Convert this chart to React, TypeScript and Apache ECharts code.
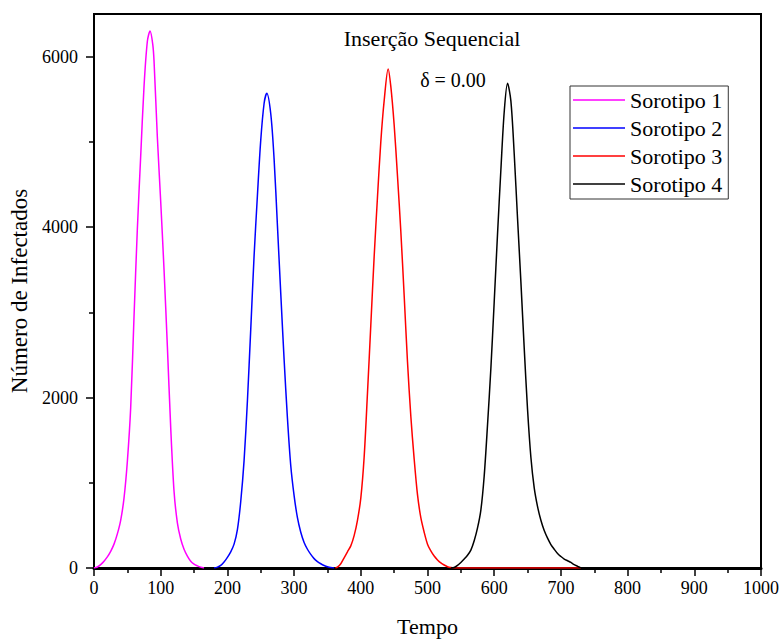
import React, { useEffect, useRef } from "react";
import * as echarts from "echarts";

const FONT = "'Liberation Serif', 'Times New Roman', serif";

const seriesNames = ["Sorotipo 1", "Sorotipo 2", "Sorotipo 3", "Sorotipo 4"];
const seriesColors = ["#FF00FF", "#0000FF", "#FF0000", "#000000"];

const s1T = [0, 5, 10, 15, 20, 25, 30, 35, 40, 45, 50, 55, 60, 65, 70, 75, 80, 84, 88, 90, 95, 100, 105, 110, 115, 120, 125, 130, 135, 140, 145, 150, 155, 160, 165];
const s1V = [0, 12, 40, 80, 130, 195, 280, 400, 560, 820, 1250, 1880, 2950, 3980, 4830, 5650, 6180, 6300, 6150, 5950, 5050, 4300, 3500, 2600, 1650, 900, 530, 340, 220, 140, 80, 45, 25, 10, 0];

const s2T = [180, 185, 190, 195, 200, 205, 210, 215, 220, 225, 230, 235, 240, 245, 250, 255, 259, 265, 270, 275, 280, 285, 290, 295, 300, 305, 310, 315, 320, 325, 330, 335, 340, 345, 350, 355, 360];
const s2V = [0, 10, 30, 70, 125, 190, 280, 450, 780, 1260, 1960, 2800, 3660, 4370, 5020, 5450, 5570, 5330, 4800, 4020, 3220, 2450, 1760, 1200, 850, 590, 420, 300, 220, 160, 110, 75, 50, 30, 15, 5, 0];

const s3T = [362, 365, 370, 375, 380, 385, 390, 395, 400, 405, 410, 415, 420, 425, 430, 435, 441, 445, 450, 455, 460, 465, 470, 475, 480, 485, 490, 495, 500, 505, 510, 515, 520, 525, 530, 535, 540, 600, 650, 700, 730];
const s3V = [0, 10, 50, 120, 190, 260, 380, 560, 820, 1300, 2050, 2850, 3650, 4350, 5000, 5480, 5856, 5650, 5200, 4600, 3950, 3200, 2420, 1780, 1280, 860, 590, 420, 280, 200, 140, 95, 60, 35, 15, 5, 0, 0, 0, 0, 0];

const s4T = [535, 540, 545, 550, 555, 560, 565, 570, 575, 580, 585, 590, 595, 600, 605, 610, 615, 620, 625, 630, 635, 640, 645, 650, 655, 660, 665, 670, 675, 680, 685, 690, 695, 700, 705, 710, 715, 720, 725, 730];
const s4V = [0, 5, 30, 65, 105, 150, 210, 320, 470, 680, 1080, 1680, 2340, 3120, 3920, 4670, 5350, 5688, 5480, 4860, 4100, 3360, 2580, 1860, 1300, 940, 720, 560, 440, 350, 275, 220, 170, 135, 105, 85, 65, 40, 20, 0];

const seriesT = [s1T, s2T, s3T, s4T];
const seriesV = [s1V, s2V, s3V, s4V];

const yMajorTicks = [0, 2000, 4000, 6000];
const yMinorTicks = [1000, 3000, 5000];

const titleText = "Inserção Sequencial";
const deltaText = "δ = 0.00";
const xName = "Tempo";
const yName = "Número de Infectados";

export default function App() {
  const ref = useRef<HTMLDivElement>(null);
  useEffect(() => {
    if (!ref.current) return;
    const chart = echarts.init(ref.current, null, { renderer: "svg" });
    const option: any = {
      animation: false,
      backgroundColor: "#fff",
      grid: {
        left: 94,
        right: 18,
        top: 14,
        bottom: 72,
        show: true,
        borderColor: "#000",
        borderWidth: 2,
        backgroundColor: "transparent",
      },
      legend: {
        orient: "vertical",
        left: 570,
        top: 86,
        icon: "rect",
        itemWidth: 52,
        itemHeight: 1.5,
        itemGap: 6,
        padding: [3, 6, 4, 3],
        borderColor: "#333",
        borderWidth: 1,
        backgroundColor: "#fff",
        data: seriesNames,
        textStyle: { fontFamily: FONT, fontSize: 22, color: "#000", lineHeight: 22 },
      },
      xAxis: {
        type: "value",
        min: 0,
        max: 1000,
        interval: 100,
        name: xName,
        nameLocation: "middle",
        nameGap: 47,
        nameTextStyle: { fontFamily: FONT, fontSize: 22, color: "#000" },
        axisLine: { show: true, lineStyle: { color: "#000", width: 3 } },
        axisTick: { show: true, length: 8, lineStyle: { color: "#000", width: 1.5 } },
        minorTick: { show: true, splitNumber: 2, length: 5, lineStyle: { color: "#000", width: 1.5 } },
        axisLabel: { fontFamily: FONT, fontSize: 18, color: "#000", margin: 11, formatter: (v: number) => String(v) },
        splitLine: { show: false },
      },
      yAxis: [
        {
          type: "value",
          min: 0,
          max: 6500,
          name: yName,
          nameLocation: "middle",
          nameGap: 62,
          nameTextStyle: { fontFamily: FONT, fontSize: 23, color: "#000" },
          axisLine: { show: true, lineStyle: { color: "#000", width: 2 } },
          axisTick: { show: true, length: 8, customValues: yMajorTicks, lineStyle: { color: "#000", width: 1.5 } },
          axisLabel: { fontFamily: FONT, fontSize: 18, color: "#000", margin: 16, customValues: yMajorTicks, formatter: (v: number) => String(v) },
          splitLine: { show: false },
        },
        {
          type: "value",
          min: 0,
          max: 6500,
          position: "left",
          axisLine: { show: false },
          axisTick: { show: true, length: 5, customValues: yMinorTicks, lineStyle: { color: "#000", width: 1.5 } },
          axisLabel: { show: false, customValues: yMinorTicks },
          splitLine: { show: false },
        },
      ],
      graphic: [
        {
          type: "text",
          x: 432,
          y: 38,
          style: { text: titleText, font: `22px ${FONT}`, fill: "#000", align: "center", verticalAlign: "middle" },
        },
        {
          type: "text",
          x: 453,
          y: 80,
          style: { text: deltaText, font: `20px ${FONT}`, fill: "#000", align: "center", verticalAlign: "middle" },
        },
      ],
      series: seriesNames.map((name, i) => ({
        name,
        type: "line",
        symbol: "none",
        showSymbol: false,
        smooth: 0.3,
        yAxisIndex: 0,
        lineStyle: { color: seriesColors[i], width: 1.5 },
        itemStyle: { color: seriesColors[i] },
        data: seriesT[i].map((t, j) => [t, seriesV[i][j]]),
      })),
    };
    chart.setOption(option);
    return () => chart.dispose();
  }, []);
  return (
    <div
      ref={ref}
      style={{ position: "fixed", left: 0, top: 0, width: 782, height: 642 }}
    />
  );
}
